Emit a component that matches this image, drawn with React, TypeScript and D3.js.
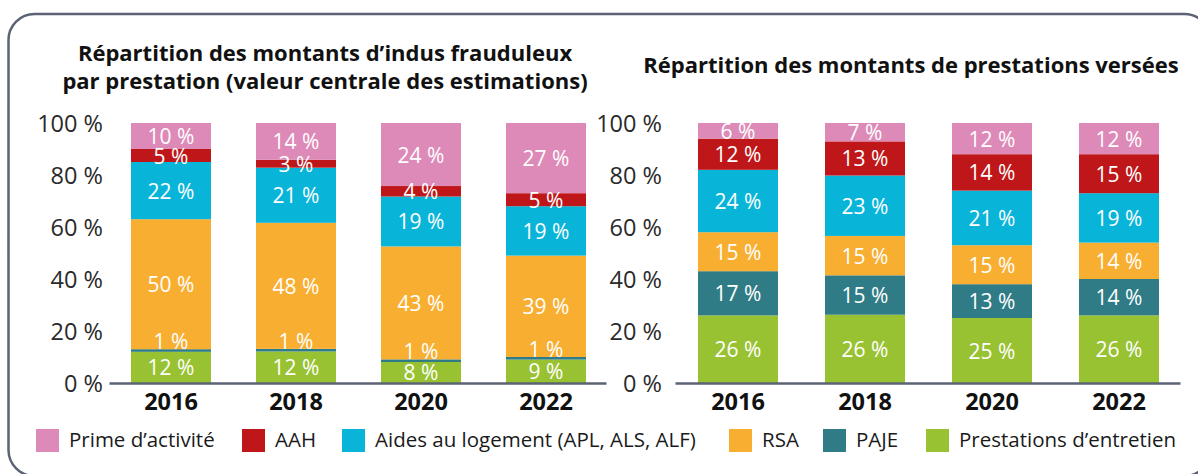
import React from "react";
import * as d3 from "d3";

const years = ["2016", "2018", "2020", "2022"];
const seriesKeys = ["entretien", "paje", "rsa", "logement", "aah", "prime"];
const seriesNames = {
  prime: "Prime d’activité",
  aah: "AAH",
  logement: "Aides au logement (APL, ALS, ALF)",
  rsa: "RSA",
  paje: "PAJE",
  entretien: "Prestations d’entretien",
};
const legendOrder = ["prime", "aah", "logement", "rsa", "paje", "entretien"];
const colors = {
  prime: "#dd8ab8",
  aah: "#bf1719",
  logement: "#08b5d9",
  rsa: "#f8ae31",
  paje: "#2f7c86",
  entretien: "#98c232",
};

// Left: indus frauduleux (%)
const fraudEntretien = [12, 12, 8, 9];
const fraudPaje = [1, 1, 1, 1];
const fraudRsa = [50, 48, 43, 39];
const fraudLogement = [22, 21, 19, 19];
const fraudAah = [5, 3, 4, 5];
const fraudPrime = [10, 14, 24, 27];

// Right: prestations versées (%)
const versEntretien = [26, 26, 25, 26];
const versPaje = [17, 15, 13, 14];
const versRsa = [15, 15, 15, 14];
const versLogement = [24, 23, 21, 19];
const versAah = [12, 13, 14, 15];
const versPrime = [6, 7, 12, 12];

const yTicks = [0, 20, 40, 60, 80, 100];

function buildRows(arrs) {
  return years.map((y, i) => {
    const r = { year: y };
    seriesKeys.forEach((k, j) => (r[k] = arrs[j][i]));
    return r;
  });
}

const fraudRows = buildRows([fraudEntretien, fraudPaje, fraudRsa, fraudLogement, fraudAah, fraudPrime]);
const versRows = buildRows([versEntretien, versPaje, versRsa, versLogement, versAah, versPrime]);

const FONT = "'Open Sans', sans-serif";

function Panel({ rows, range, padInner, padOuter, tickRight }) {
  const x = d3.scaleBand().domain(years).range(range).paddingInner(padInner).paddingOuter(padOuter);
  const y = d3.scaleLinear().domain([0, 100]).range([383, 123]);
  const stack = d3.stack().keys(seriesKeys).offset(d3.stackOffsetExpand);
  const layers = stack(rows);
  return (
    <g>
      {yTicks.map((t) => (
        <text
          key={t}
          x={tickRight}
          y={y(t)}
          textAnchor="end"
          dominantBaseline="central"
          fontSize={23.5}
          fill="#2a2a2a"
          fontFamily={FONT}
        >
          {t} %
        </text>
      ))}
      {layers.map((layer) => (
        <g key={layer.key}>
          {layer.map((d, i) => {
            const y0 = y(d[0] * 100);
            const y1 = y(d[1] * 100);
            return (
              <rect
                key={i}
                x={x(d.data.year)}
                width={x.bandwidth()}
                y={y1}
                height={y0 - y1}
                fill={colors[layer.key]}
              />
            );
          })}
        </g>
      ))}
      {layers.map((layer) => (
        <g key={layer.key + "l"}>
          {layer.map((d, i) => {
            const y0 = y(d[0] * 100);
            const y1 = y(d[1] * 100);
            const v = d.data[layer.key];
            const cy = v < 2 ? y1 - 8 : (y0 + y1) / 2;
            return (
              <text
                key={i}
                x={x(d.data.year) + x.bandwidth() / 2}
                y={cy}
                textAnchor="middle"
                dominantBaseline="central"
                fontSize={21}
                fill="#ffffff"
                fontFamily={FONT}
              >
                {v} %
              </text>
            );
          })}
        </g>
      ))}
      <line x1={range[0] + 1} x2={range[1] - 2} y1={383.5} y2={383.5} stroke="#5b6374" strokeWidth={2.5} />
      {years.map((yr) => (
        <text
          key={yr}
          x={x(yr) + x.bandwidth() / 2}
          y={410}
          textAnchor="middle"
          fontSize={23.5}
          fontWeight="bold"
          fill="#111"
          fontFamily={FONT}
        >
          {yr}
        </text>
      ))}
    </g>
  );
}

const legendX = [36, 242, 342, 729, 823, 926];

export default function App() {
  return (
    <svg width={1198} height={474} style={{ display: "block", position: "absolute", left: 0, top: 0 }}>
      <rect x={8.5} y={14} width={1202} height={462} rx={26} fill="#fff" stroke="#5b6374" strokeWidth={2.5} />
      <text x={325} y={61} textAnchor="middle" fontSize={22} fontWeight="bold" fill="#111" fontFamily={FONT}>
        Répartition des montants d’indus frauduleux
      </text>
      <text x={325} y={89} textAnchor="middle" fontSize={22} fontWeight="bold" fill="#111" fontFamily={FONT}>
        par prestation (valeur centrale des estimations)
      </text>
      <text x={911} y={73} textAnchor="middle" fontSize={22} fontWeight="bold" fill="#111" fontFamily={FONT}>
        Répartition des montants de prestations versées
      </text>
      <Panel rows={fraudRows} range={[108.5, 608.5]} padInner={0.36} padOuter={0.18} tickRight={103} />
      <Panel rows={versRows} range={[674.5, 1182.5]} padInner={0.37} padOuter={0.185} tickRight={662} />
      {legendOrder.map((k, i) => (
        <g key={k}>
          <rect x={legendX[i]} y={429} width={23} height={23} fill={colors[k]} />
          <text x={legendX[i] + 33} y={447} fontSize={20.5} fill="#1a1a1a" fontFamily={FONT}>
            {seriesNames[k]}
          </text>
        </g>
      ))}
    </svg>
  );
}
